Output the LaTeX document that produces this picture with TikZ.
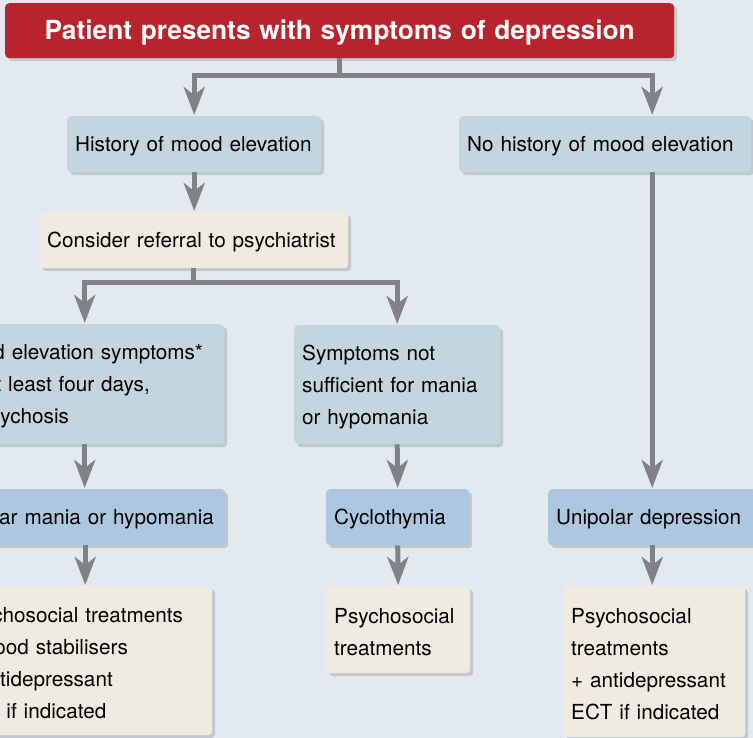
\documentclass[tikz,border=0pt]{standalone}
\usepackage{fontspec}
\setmainfont{TeX Gyre Heros}
\usetikzlibrary{arrows.meta,shadows}
\definecolor{bgblue}{RGB}{226,234,240}
\definecolor{redbox}{RGB}{183,36,45}
\definecolor{hdrbox}{RGB}{196,214,221}
\definecolor{dxbox}{RGB}{174,199,224}
\definecolor{txbox}{RGB}{239,235,225}
\definecolor{arrowgray}{RGB}{128,130,133}

\begin{document}
\begin{tikzpicture}[x=1pt,y=-1pt,font=\fontsize{20.7}{32}\selectfont]
            \clip (0,0) rectangle (753,738);
            \fill[bgblue] (0,0) rectangle (753,738);
            \begin{scope}[every node/.style={rectangle,rounded corners=4pt,anchor=north west,inner xsep=8pt,inner ysep=0pt,align=left,text height=20pt,
                drop shadow={shadow xshift=3pt,shadow yshift=-3pt,opacity=.25,fill=black!60}}]
            \node[fill=redbox,text=white,font=\bfseries\fontsize{26.3}{30}\selectfont,align=center,text width=653pt,minimum height=55pt,text height=24pt] (start) at (5,3) {Patient presents with symptoms of depression};
            \node[fill=hdrbox,text width=238pt,minimum height=56pt] (hist) at (67,116) {History of mood elevation};
            \node[fill=hdrbox,text width=276pt,minimum height=56pt] (nohist) at (459,116) {No history of mood elevation};
            \node[fill=txbox,text width=293pt,minimum height=56pt] (refer) at (39,212) {Consider referral to psychiatrist};
            \node[fill=hdrbox,text width=263pt,minimum height=120pt] (mood) at (-55,324) {Mood elevation symptoms*\\for at least four days,\\or psychosis};
            \node[fill=hdrbox,text width=190pt,minimum height=119pt] (notsuff) at (294,325) {Symptoms not\\sufficient for mania\\or hypomania};
            \node[fill=dxbox,text width=264pt,minimum height=56pt] (bipolar) at (-55,489) {Bipolar mania or hypomania};
            \node[fill=dxbox,text width=127pt,minimum height=56pt] (cyclo) at (326,489) {Cyclothymia};
            \node[fill=dxbox,text width=192pt,minimum height=56pt] (unipolar) at (548,489) {Unipolar depression};
            \node[fill=txbox,text width=246pt,minimum height=149pt] (treatbi) at (-50,586) {Psychosocial treatments\\+ mood stabilisers\\+ antidepressant\\ECT if indicated};
            \node[fill=txbox,text width=128pt,minimum height=87pt] (treatcy) at (326,586) {Psychosocial\\treatments};
            \node[fill=txbox,text width=166pt,minimum height=151pt] (treatuni) at (563,586) {Psychosocial\\treatments\\+ antidepressant\\ECT if indicated};
            \end{scope}
            \begin{scope}[every path/.style={draw=arrowgray,line width=5pt},>={Stealth[length=28pt,width=21pt,inset=8pt]},shorten >=1pt]
            \draw[->] (start.south) -- ++(0,17.5) coordinate (top) -| (hist.north);
            \draw[->] (top) -| (nohist.north -| unipolar.north);
            \draw[->] (hist.south) -- (hist.south |- refer.north);
            \draw[->] (refer.south) -- ++(0,14) coordinate (split) -| (mood.north);
            \draw[->] (split) -| (notsuff.north);
            \draw[->] (mood.south) -- (mood.south |- bipolar.north);
            \draw[->] (notsuff.south) -- (cyclo.north);
            \draw[->] (nohist.south -| unipolar.north) -- (unipolar.north);
            \draw[->] (bipolar.south) -- (bipolar.south |- treatbi.north);
            \draw[->] (cyclo.south) -- (treatcy.north);
            \draw[->] (unipolar.south) -- (unipolar.south |- treatuni.north);
            \end{scope}
\end{tikzpicture}
\end{document}
